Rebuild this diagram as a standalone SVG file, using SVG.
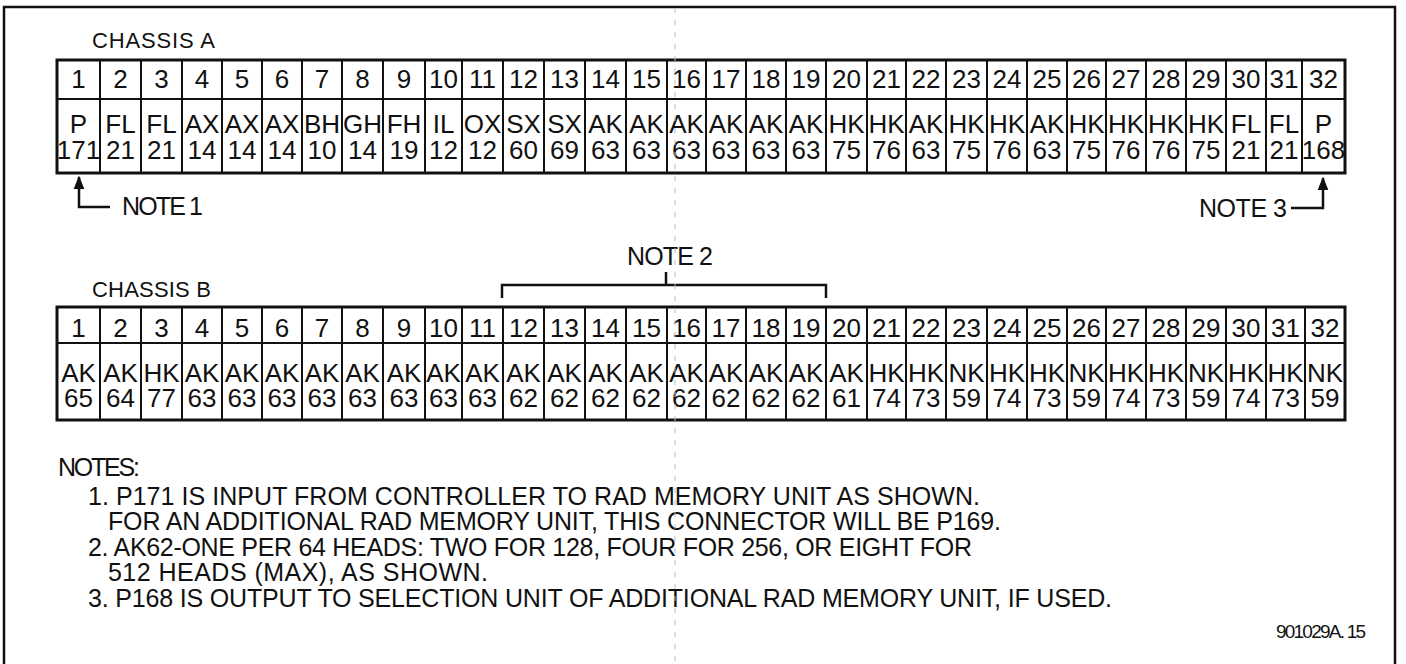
<svg xmlns="http://www.w3.org/2000/svg" width="1406" height="664" viewBox="0 0 1406 664">
<style>
text{font-family:"Liberation Sans",Arial,sans-serif;fill:#111;}
.c{font-size:26px;text-anchor:middle;}
.lbl{font-size:22px;}
.nt{font-size:25px;}
.code{font-size:19px;}
.frame{fill:none;stroke:#111;stroke-width:2.5;}
.outer{fill:#fff;stroke:#111;stroke-width:3;}
.inner{fill:none;stroke:#111;stroke-width:2;}
.conn{fill:none;stroke:#111;stroke-width:2.5;}
.fold{fill:none;stroke:#bbb;stroke-width:1;stroke-dasharray:5 7;}
</style>
<defs>
<marker id="ah" viewBox="0 0 10 10" refX="9" refY="5" markerWidth="5.5" markerHeight="6" orient="auto" markerUnits="strokeWidth">
<path d="M0,1 L10,5 L0,9 Z" fill="#111"/>
</marker>
</defs>
<rect x="0" y="0" width="1406" height="664" fill="#fff"/>
<path class="frame" d="M4,666 V7 H1395 V666"/>

<g id="label-a"><text class="lbl" x="92" y="48" textLength="123">CHASSIS A</text></g>
<g id="chassis-a">
<rect class="outer" x="57" y="60" width="1288" height="113"/>
<path class="inner" d="M57,99 H1345 M100,60 V173 M141,60 V173 M182,60 V173 M222,60 V173 M262,60 V173 M302,60 V173 M342,60 V173 M383,60 V173 M425,60 V173 M462,60 V173 M503,60 V173 M544,60 V173 M585,60 V173 M626,60 V173 M667,60 V173 M706,60 V173 M746,60 V173 M786,60 V173 M826,60 V173 M867,60 V173 M906,60 V173 M946,60 V173 M987,60 V173 M1027,60 V173 M1067,60 V173 M1106,60 V173 M1146,60 V173 M1186,60 V173 M1226,60 V173 M1266,60 V173 M1302,60 V173"/>
<g id="a1"><text class="c" x="78.5" y="88">1</text><text class="c" x="78.5" y="133">P</text><text class="c" x="78.5" y="159">171</text></g>
<g id="a2"><text class="c" x="120.5" y="88">2</text><text class="c" x="120.5" y="133">FL</text><text class="c" x="120.5" y="159">21</text></g>
<g id="a3"><text class="c" x="161.5" y="88">3</text><text class="c" x="161.5" y="133">FL</text><text class="c" x="161.5" y="159">21</text></g>
<g id="a4"><text class="c" x="202" y="88">4</text><text class="c" x="202" y="133">AX</text><text class="c" x="202" y="159">14</text></g>
<g id="a5"><text class="c" x="242" y="88">5</text><text class="c" x="242" y="133">AX</text><text class="c" x="242" y="159">14</text></g>
<g id="a6"><text class="c" x="282" y="88">6</text><text class="c" x="282" y="133">AX</text><text class="c" x="282" y="159">14</text></g>
<g id="a7"><text class="c" x="322" y="88">7</text><text class="c" x="322" y="133">BH</text><text class="c" x="322" y="159">10</text></g>
<g id="a8"><text class="c" x="362.5" y="88">8</text><text class="c" x="362.5" y="133">GH</text><text class="c" x="362.5" y="159">14</text></g>
<g id="a9"><text class="c" x="404" y="88">9</text><text class="c" x="404" y="133">FH</text><text class="c" x="404" y="159">19</text></g>
<g id="a10"><text class="c" x="443.5" y="88">10</text><text class="c" x="443.5" y="133">IL</text><text class="c" x="443.5" y="159">12</text></g>
<g id="a11"><text class="c" x="482.5" y="88">11</text><text class="c" x="482.5" y="133">OX</text><text class="c" x="482.5" y="159">12</text></g>
<g id="a12"><text class="c" x="523.5" y="88">12</text><text class="c" x="523.5" y="133">SX</text><text class="c" x="523.5" y="159">60</text></g>
<g id="a13"><text class="c" x="564.5" y="88">13</text><text class="c" x="564.5" y="133">SX</text><text class="c" x="564.5" y="159">69</text></g>
<g id="a14"><text class="c" x="605.5" y="88">14</text><text class="c" x="605.5" y="133">AK</text><text class="c" x="605.5" y="159">63</text></g>
<g id="a15"><text class="c" x="646.5" y="88">15</text><text class="c" x="646.5" y="133">AK</text><text class="c" x="646.5" y="159">63</text></g>
<g id="a16"><text class="c" x="686.5" y="88">16</text><text class="c" x="686.5" y="133">AK</text><text class="c" x="686.5" y="159">63</text></g>
<g id="a17"><text class="c" x="726" y="88">17</text><text class="c" x="726" y="133">AK</text><text class="c" x="726" y="159">63</text></g>
<g id="a18"><text class="c" x="766" y="88">18</text><text class="c" x="766" y="133">AK</text><text class="c" x="766" y="159">63</text></g>
<g id="a19"><text class="c" x="806" y="88">19</text><text class="c" x="806" y="133">AK</text><text class="c" x="806" y="159">63</text></g>
<g id="a20"><text class="c" x="846.5" y="88">20</text><text class="c" x="846.5" y="133">HK</text><text class="c" x="846.5" y="159">75</text></g>
<g id="a21"><text class="c" x="886.5" y="88">21</text><text class="c" x="886.5" y="133">HK</text><text class="c" x="886.5" y="159">76</text></g>
<g id="a22"><text class="c" x="926" y="88">22</text><text class="c" x="926" y="133">AK</text><text class="c" x="926" y="159">63</text></g>
<g id="a23"><text class="c" x="966.5" y="88">23</text><text class="c" x="966.5" y="133">HK</text><text class="c" x="966.5" y="159">75</text></g>
<g id="a24"><text class="c" x="1007" y="88">24</text><text class="c" x="1007" y="133">HK</text><text class="c" x="1007" y="159">76</text></g>
<g id="a25"><text class="c" x="1047" y="88">25</text><text class="c" x="1047" y="133">AK</text><text class="c" x="1047" y="159">63</text></g>
<g id="a26"><text class="c" x="1086.5" y="88">26</text><text class="c" x="1086.5" y="133">HK</text><text class="c" x="1086.5" y="159">75</text></g>
<g id="a27"><text class="c" x="1126" y="88">27</text><text class="c" x="1126" y="133">HK</text><text class="c" x="1126" y="159">76</text></g>
<g id="a28"><text class="c" x="1166" y="88">28</text><text class="c" x="1166" y="133">HK</text><text class="c" x="1166" y="159">76</text></g>
<g id="a29"><text class="c" x="1206" y="88">29</text><text class="c" x="1206" y="133">HK</text><text class="c" x="1206" y="159">75</text></g>
<g id="a30"><text class="c" x="1246" y="88">30</text><text class="c" x="1246" y="133">FL</text><text class="c" x="1246" y="159">21</text></g>
<g id="a31"><text class="c" x="1284" y="88">31</text><text class="c" x="1284" y="133">FL</text><text class="c" x="1284" y="159">21</text></g>
<g id="a32"><text class="c" x="1323.5" y="88">32</text><text class="c" x="1323.5" y="133">P</text><text class="c" x="1323.5" y="159">168</text></g>
</g>

<g id="note1-label"><text class="nt" x="122" y="215" textLength="81">NOTE 1</text></g>
<g id="note3-label"><text class="nt" x="1199" y="217" textLength="88">NOTE 3</text></g>
<g id="note2-label"><text class="nt" x="627" y="265" textLength="86">NOTE 2</text></g>
<g id="label-b"><text class="lbl" x="92" y="297" textLength="119">CHASSIS B</text></g>

<g id="chassis-b">
<rect class="outer" x="57" y="307" width="1288" height="113"/>
<path class="inner" d="M57,343 H1345 M100,307 V420 M141,307 V420 M182,307 V420 M222,307 V420 M262,307 V420 M302,307 V420 M342,307 V420 M383,307 V420 M425,307 V420 M462,307 V420 M503,307 V420 M544,307 V420 M585,307 V420 M626,307 V420 M667,307 V420 M706,307 V420 M746,307 V420 M786,307 V420 M826,307 V420 M867,307 V420 M906,307 V420 M946,307 V420 M987,307 V420 M1027,307 V420 M1067,307 V420 M1106,307 V420 M1146,307 V420 M1186,307 V420 M1226,307 V420 M1266,307 V420 M1305,307 V420"/>
<g id="b1"><text class="c" x="78.5" y="337">1</text><text class="c" x="78.5" y="382">AK</text><text class="c" x="78.5" y="407">65</text></g>
<g id="b2"><text class="c" x="120.5" y="337">2</text><text class="c" x="120.5" y="382">AK</text><text class="c" x="120.5" y="407">64</text></g>
<g id="b3"><text class="c" x="161.5" y="337">3</text><text class="c" x="161.5" y="382">HK</text><text class="c" x="161.5" y="407">77</text></g>
<g id="b4"><text class="c" x="202" y="337">4</text><text class="c" x="202" y="382">AK</text><text class="c" x="202" y="407">63</text></g>
<g id="b5"><text class="c" x="242" y="337">5</text><text class="c" x="242" y="382">AK</text><text class="c" x="242" y="407">63</text></g>
<g id="b6"><text class="c" x="282" y="337">6</text><text class="c" x="282" y="382">AK</text><text class="c" x="282" y="407">63</text></g>
<g id="b7"><text class="c" x="322" y="337">7</text><text class="c" x="322" y="382">AK</text><text class="c" x="322" y="407">63</text></g>
<g id="b8"><text class="c" x="362.5" y="337">8</text><text class="c" x="362.5" y="382">AK</text><text class="c" x="362.5" y="407">63</text></g>
<g id="b9"><text class="c" x="404" y="337">9</text><text class="c" x="404" y="382">AK</text><text class="c" x="404" y="407">63</text></g>
<g id="b10"><text class="c" x="443.5" y="337">10</text><text class="c" x="443.5" y="382">AK</text><text class="c" x="443.5" y="407">63</text></g>
<g id="b11"><text class="c" x="482.5" y="337">11</text><text class="c" x="482.5" y="382">AK</text><text class="c" x="482.5" y="407">63</text></g>
<g id="b12"><text class="c" x="523.5" y="337">12</text><text class="c" x="523.5" y="382">AK</text><text class="c" x="523.5" y="407">62</text></g>
<g id="b13"><text class="c" x="564.5" y="337">13</text><text class="c" x="564.5" y="382">AK</text><text class="c" x="564.5" y="407">62</text></g>
<g id="b14"><text class="c" x="605.5" y="337">14</text><text class="c" x="605.5" y="382">AK</text><text class="c" x="605.5" y="407">62</text></g>
<g id="b15"><text class="c" x="646.5" y="337">15</text><text class="c" x="646.5" y="382">AK</text><text class="c" x="646.5" y="407">62</text></g>
<g id="b16"><text class="c" x="686.5" y="337">16</text><text class="c" x="686.5" y="382">AK</text><text class="c" x="686.5" y="407">62</text></g>
<g id="b17"><text class="c" x="726" y="337">17</text><text class="c" x="726" y="382">AK</text><text class="c" x="726" y="407">62</text></g>
<g id="b18"><text class="c" x="766" y="337">18</text><text class="c" x="766" y="382">AK</text><text class="c" x="766" y="407">62</text></g>
<g id="b19"><text class="c" x="806" y="337">19</text><text class="c" x="806" y="382">AK</text><text class="c" x="806" y="407">62</text></g>
<g id="b20"><text class="c" x="846.5" y="337">20</text><text class="c" x="846.5" y="382">AK</text><text class="c" x="846.5" y="407">61</text></g>
<g id="b21"><text class="c" x="886.5" y="337">21</text><text class="c" x="886.5" y="382">HK</text><text class="c" x="886.5" y="407">74</text></g>
<g id="b22"><text class="c" x="926" y="337">22</text><text class="c" x="926" y="382">HK</text><text class="c" x="926" y="407">73</text></g>
<g id="b23"><text class="c" x="966.5" y="337">23</text><text class="c" x="966.5" y="382">NK</text><text class="c" x="966.5" y="407">59</text></g>
<g id="b24"><text class="c" x="1007" y="337">24</text><text class="c" x="1007" y="382">HK</text><text class="c" x="1007" y="407">74</text></g>
<g id="b25"><text class="c" x="1047" y="337">25</text><text class="c" x="1047" y="382">HK</text><text class="c" x="1047" y="407">73</text></g>
<g id="b26"><text class="c" x="1086.5" y="337">26</text><text class="c" x="1086.5" y="382">NK</text><text class="c" x="1086.5" y="407">59</text></g>
<g id="b27"><text class="c" x="1126" y="337">27</text><text class="c" x="1126" y="382">HK</text><text class="c" x="1126" y="407">74</text></g>
<g id="b28"><text class="c" x="1166" y="337">28</text><text class="c" x="1166" y="382">HK</text><text class="c" x="1166" y="407">73</text></g>
<g id="b29"><text class="c" x="1206" y="337">29</text><text class="c" x="1206" y="382">NK</text><text class="c" x="1206" y="407">59</text></g>
<g id="b30"><text class="c" x="1246" y="337">30</text><text class="c" x="1246" y="382">HK</text><text class="c" x="1246" y="407">74</text></g>
<g id="b31"><text class="c" x="1285.5" y="337">31</text><text class="c" x="1285.5" y="382">HK</text><text class="c" x="1285.5" y="407">73</text></g>
<g id="b32"><text class="c" x="1325" y="337">32</text><text class="c" x="1325" y="382">NK</text><text class="c" x="1325" y="407">59</text></g>
</g>

<g id="connectors">
<path class="conn" d="M110,207 H79 V177" marker-end="url(#ah)"/>
<path class="conn" d="M1291,208 H1323 V178" marker-end="url(#ah)"/>
<path class="conn" d="M502,298 V285 H826 V298 M666,272 V285"/>
</g>

<g id="notes">
<text class="nt" x="58" y="476" textLength="82">NOTES:</text>
<text class="nt" x="88" y="505" textLength="892">1. P171 IS INPUT FROM CONTROLLER TO RAD MEMORY UNIT AS SHOWN.</text>
<text class="nt" x="108" y="530" textLength="893">FOR AN ADDITIONAL RAD MEMORY UNIT, THIS CONNECTOR WILL BE P169.</text>
<text class="nt" x="88" y="556" textLength="884">2. AK62-ONE PER 64 HEADS: TWO FOR 128, FOUR FOR 256, OR EIGHT FOR</text>
<text class="nt" x="108" y="581" textLength="380">512 HEADS (MAX), AS SHOWN.</text>
<text class="nt" x="88" y="607" textLength="1024">3. P168 IS OUTPUT TO SELECTION UNIT OF ADDITIONAL RAD MEMORY UNIT, IF USED.</text>
</g>
<g id="code"><text class="code" x="1276" y="638" textLength="90">901029A. 15</text></g>

<path class="fold" d="M675,8 V664"/>
</svg>
